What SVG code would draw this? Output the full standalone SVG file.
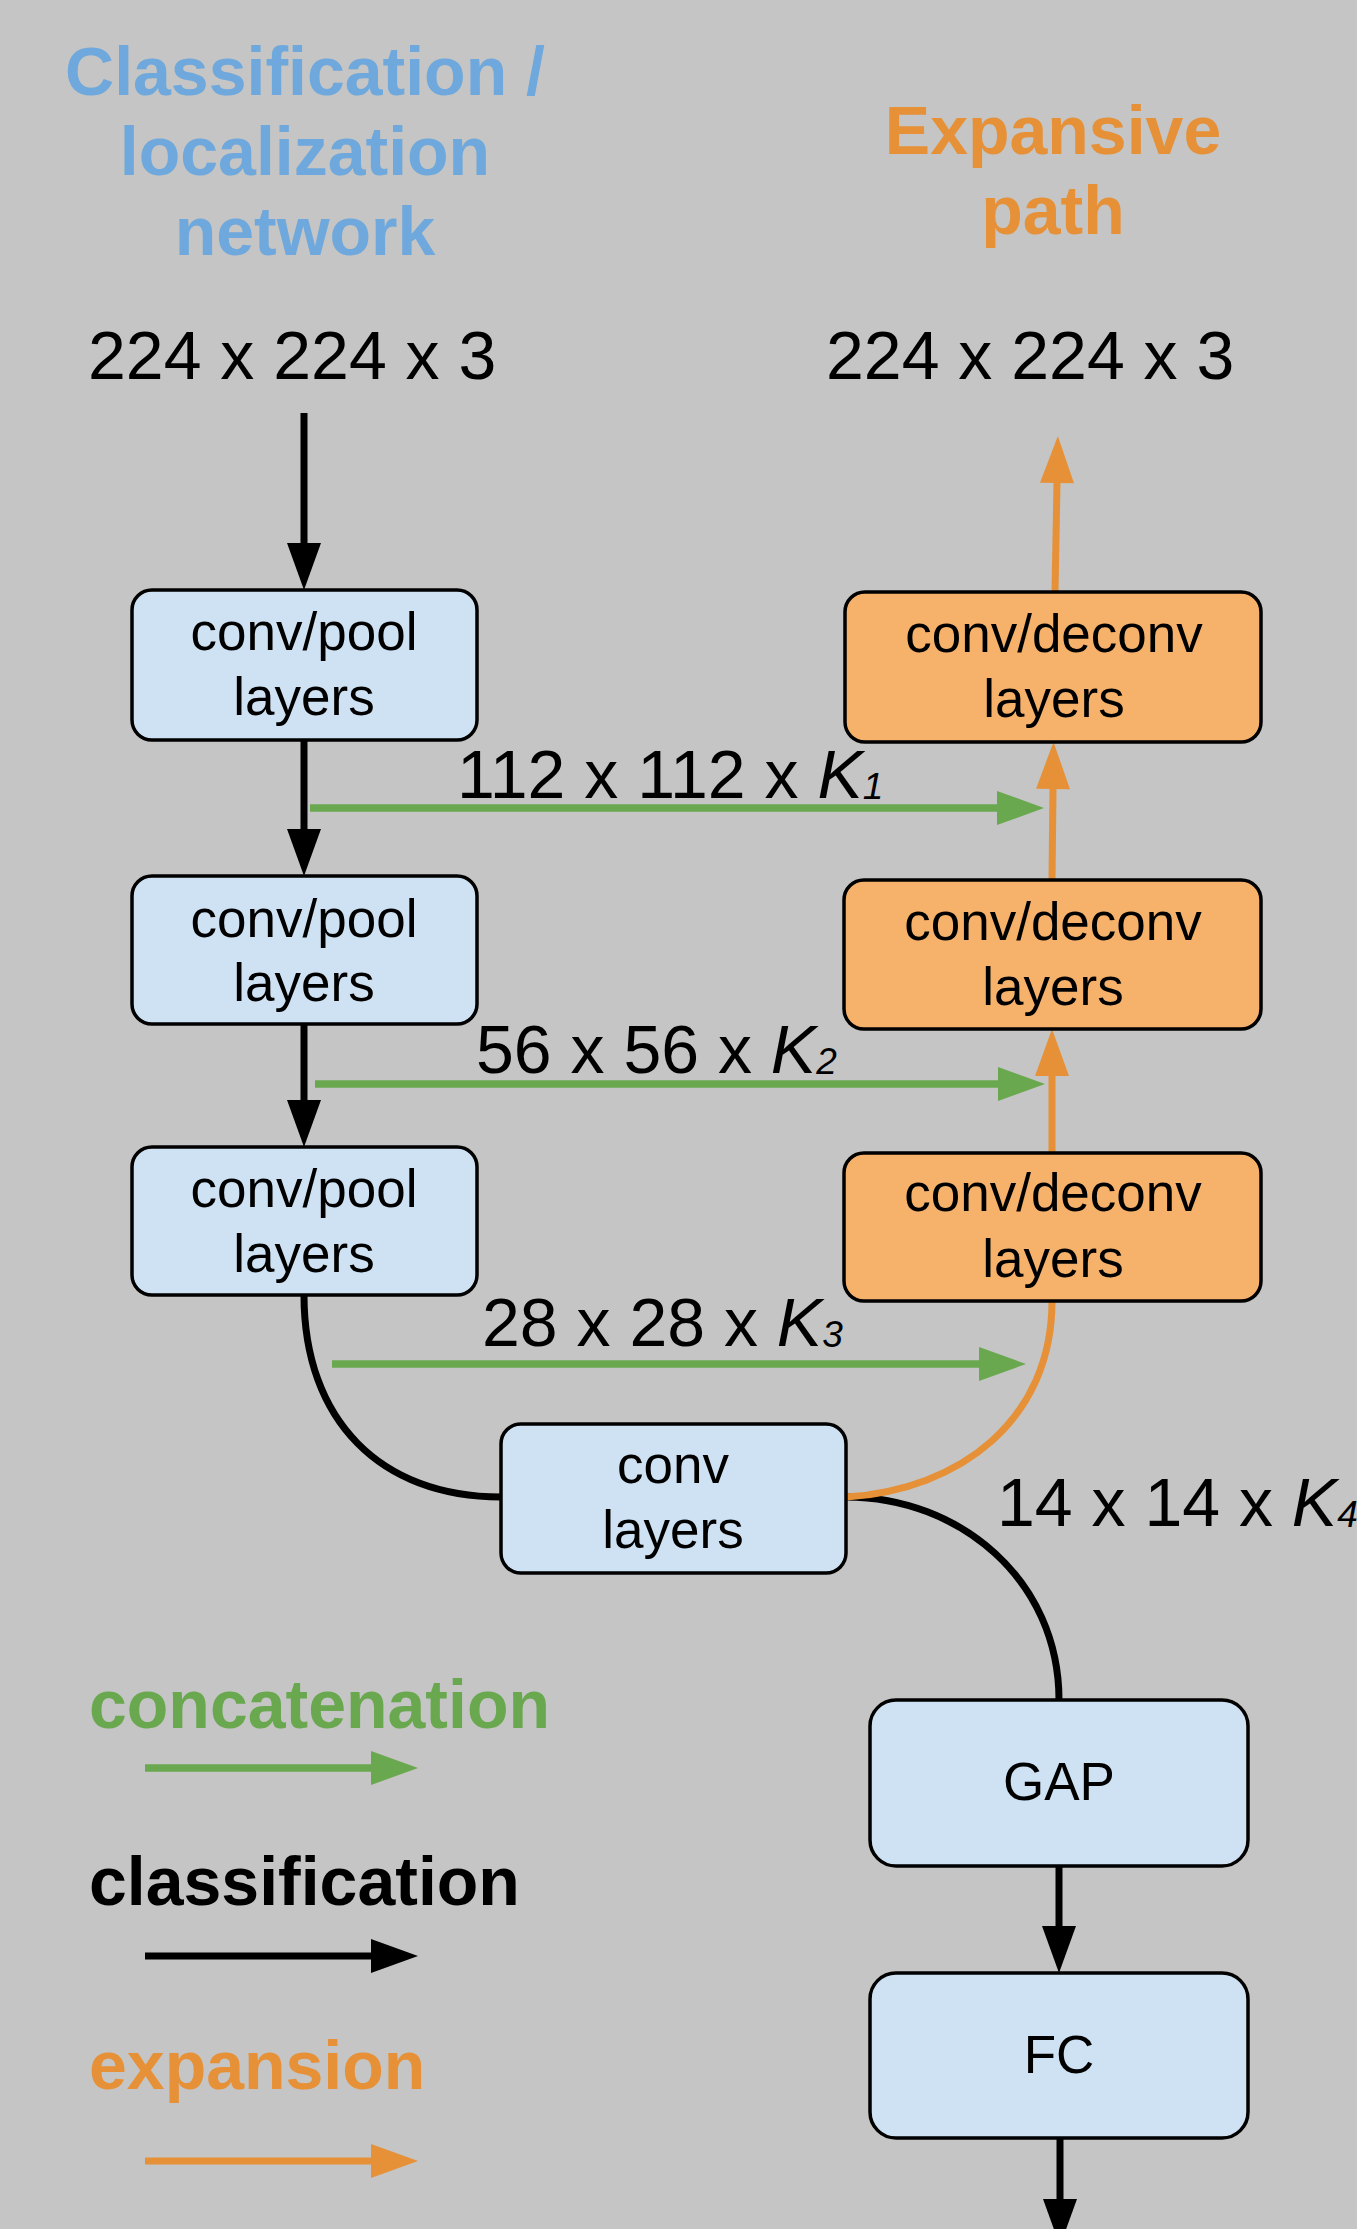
<svg xmlns="http://www.w3.org/2000/svg" width="1357" height="2229" viewBox="0 0 1357 2229">
  <style>
    text { font-family: "Liberation Sans", Arial, Helvetica, sans-serif; }
    .title { font-size: 68px; font-weight: bold; }
    .blue { fill: #6fa8dc; }
    .orangeT { fill: #e69138; }
    .greenT { fill: #6aa84f; }
    .dim { font-size: 68px; fill: #000; }
    .k { font-style: italic; }
    .sub { font-size: 37px; font-style: italic; }
    .lbl { font-size: 53px; fill: #000; text-anchor: middle; }
    .boxB { fill: #cfe2f3; stroke: #000; stroke-width: 3.5; }
    .boxO { fill: #f6b26b; stroke: #000; stroke-width: 3.5; }
    .cb { fill: none; stroke: #000; stroke-width: 7; }
    .co { fill: none; stroke: #e69138; stroke-width: 7; }
    .cg { fill: none; stroke: #6aa84f; stroke-width: 7.5; }
  </style>
  <defs>
    <marker id="ab" markerUnits="userSpaceOnUse" markerWidth="48" markerHeight="34" refX="0" refY="17" orient="auto" overflow="visible">
      <path d="M0,0 L47,17 L0,34 Z" fill="#000"/>
    </marker>
    <marker id="ao" markerUnits="userSpaceOnUse" markerWidth="48" markerHeight="34" refX="0" refY="17" orient="auto" overflow="visible">
      <path d="M0,0 L47,17 L0,34 Z" fill="#e69138"/>
    </marker>
    <marker id="ag" markerUnits="userSpaceOnUse" markerWidth="48" markerHeight="34" refX="0" refY="17" orient="auto" overflow="visible">
      <path d="M0,0 L47,17 L0,34 Z" fill="#6aa84f"/>
    </marker>
  </defs>
  <rect x="0" y="0" width="1357" height="2229" fill="#c4c5c4"/>

  <g id="titles">
    <text class="title blue" text-anchor="middle" x="305" y="95">Classification /</text>
    <text class="title blue" text-anchor="middle" x="305" y="175">localization</text>
    <text class="title blue" text-anchor="middle" x="305" y="255">network</text>
    <text class="title orangeT" text-anchor="middle" x="1053" y="154">Expansive</text>
    <text class="title orangeT" text-anchor="middle" x="1053" y="234">path</text>
  </g>

  <g id="dims">
    <text class="dim" x="88" y="379">224 x 224 x 3</text>
    <text class="dim" x="826" y="379">224 x 224 x 3</text>
    <text class="dim" x="457" y="798">112 x 112 x <tspan class="k">K</tspan><tspan class="sub" dy="1">1</tspan></text>
    <text class="dim" x="476" y="1073">56 x 56 x <tspan class="k">K</tspan><tspan class="sub" dy="1">2</tspan></text>
    <text class="dim" x="482" y="1346">28 x 28 x <tspan class="k">K</tspan><tspan class="sub" dy="1">3</tspan></text>
    <text class="dim" x="997" y="1526">14 x 14 x <tspan class="k">K</tspan><tspan class="sub" dy="1">4</tspan></text>
  </g>

  <g id="connectors">
    <path class="cb" d="M304,413 V543" marker-end="url(#ab)"/>
    <path class="cb" d="M304,740 V829" marker-end="url(#ab)"/>
    <path class="cb" d="M304,1024 V1100" marker-end="url(#ab)"/>
    <path class="cb" d="M304,1295 C304,1420 380,1497 501,1497"/>
    <path class="cb" d="M846,1497 C960,1497 1059,1580 1059,1700"/>
    <path class="cb" d="M1059,1866 V1926" marker-end="url(#ab)"/>
    <path class="cb" d="M1060,2138 V2199" marker-end="url(#ab)"/>
    <path class="co" d="M1055,592 L1057,483" marker-end="url(#ao)"/>
    <path class="co" d="M1052,880 L1053,789" marker-end="url(#ao)"/>
    <path class="co" d="M1052,1153 V1076" marker-end="url(#ao)"/>
    <path class="co" d="M846,1497 C960,1490 1052,1420 1052,1301"/>
    <path class="cg" d="M310,808 H997" marker-end="url(#ag)"/>
    <path class="cg" d="M315,1084 H998" marker-end="url(#ag)"/>
    <path class="cg" d="M332,1364 H979" marker-end="url(#ag)"/>
  </g>

  <g id="node-pool1">
    <rect class="boxB" x="132" y="590" width="345" height="150" rx="20"/>
    <text class="lbl" x="304" y="650">conv/pool</text>
    <text class="lbl" x="304" y="715">layers</text>
  </g>
  <g id="node-pool2">
    <rect class="boxB" x="132" y="876" width="345" height="148" rx="20"/>
    <text class="lbl" x="304" y="937">conv/pool</text>
    <text class="lbl" x="304" y="1001">layers</text>
  </g>
  <g id="node-pool3">
    <rect class="boxB" x="132" y="1147" width="345" height="148" rx="20"/>
    <text class="lbl" x="304" y="1207">conv/pool</text>
    <text class="lbl" x="304" y="1272">layers</text>
  </g>
  <g id="node-deconv1">
    <rect class="boxO" x="845" y="592" width="416" height="150" rx="20"/>
    <text class="lbl" x="1054" y="652">conv/deconv</text>
    <text class="lbl" x="1054" y="717">layers</text>
  </g>
  <g id="node-deconv2">
    <rect class="boxO" x="844" y="880" width="417" height="149" rx="20"/>
    <text class="lbl" x="1053" y="940">conv/deconv</text>
    <text class="lbl" x="1053" y="1005">layers</text>
  </g>
  <g id="node-deconv3">
    <rect class="boxO" x="844" y="1153" width="417" height="148" rx="20"/>
    <text class="lbl" x="1053" y="1211">conv/deconv</text>
    <text class="lbl" x="1053" y="1277">layers</text>
  </g>
  <g id="node-conv">
    <rect class="boxB" x="501" y="1424" width="345" height="149" rx="20"/>
    <text class="lbl" x="673" y="1483">conv</text>
    <text class="lbl" x="673" y="1548">layers</text>
  </g>
  <g id="node-gap">
    <rect class="boxB" x="870" y="1700" width="378" height="166" rx="26"/>
    <text class="lbl" x="1059" y="1800">GAP</text>
  </g>
  <g id="node-fc">
    <rect class="boxB" x="870" y="1973" width="378" height="165" rx="26"/>
    <text class="lbl" x="1059" y="2073">FC</text>
  </g>

  <g id="legend">
    <text class="title greenT" x="89" y="1728">concatenation</text>
    <path class="cg" d="M145,1768 H371" marker-end="url(#ag)"/>
    <text class="title" fill="#000" x="89" y="1905">classification</text>
    <path class="cb" d="M145,1956 H371" marker-end="url(#ab)"/>
    <text class="title orangeT" x="89" y="2089">expansion</text>
    <path class="co" d="M145,2161 H371" marker-end="url(#ao)"/>
  </g>
</svg>
